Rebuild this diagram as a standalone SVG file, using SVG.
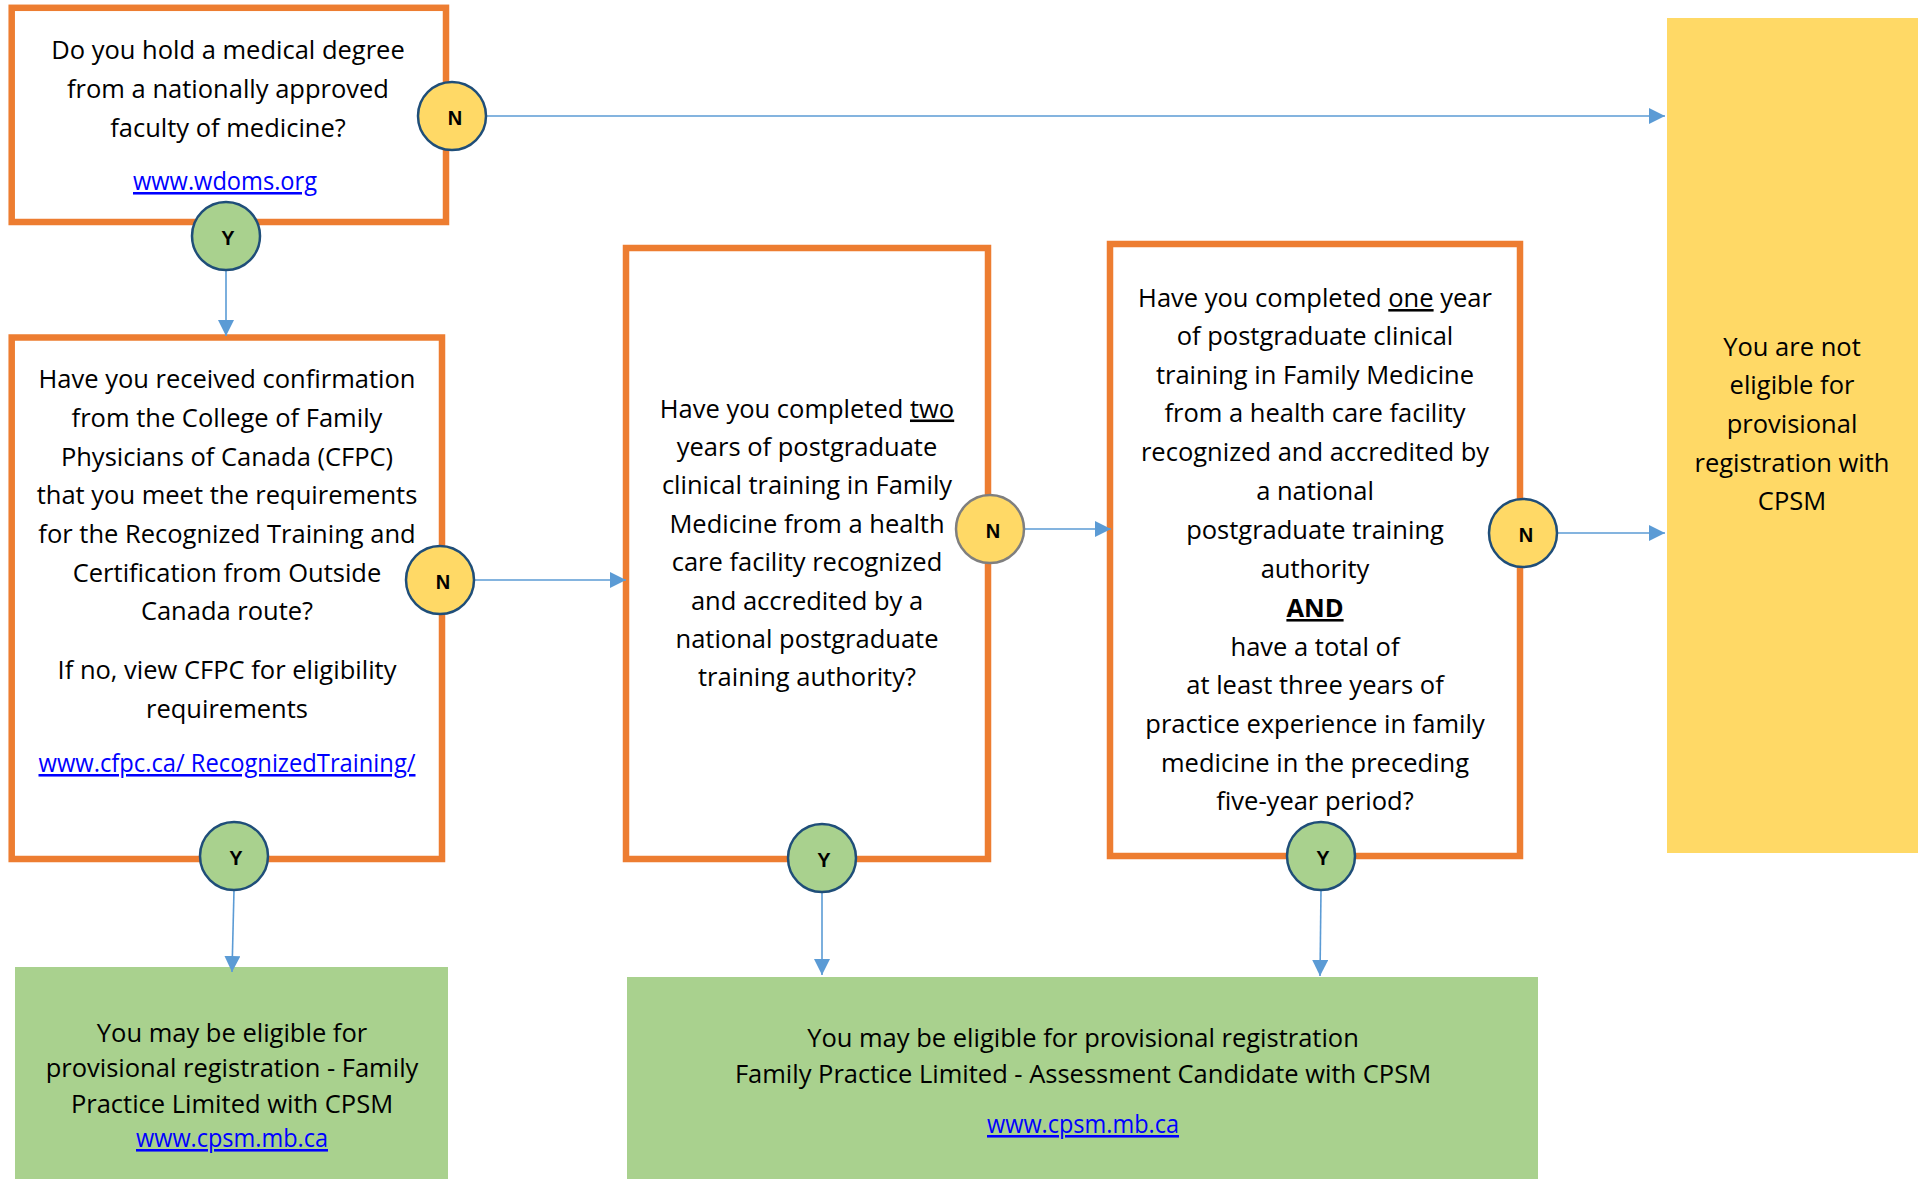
<svg xmlns="http://www.w3.org/2000/svg" width="1923" height="1179" viewBox="0 0 1923 1179">
<style>
.bg{fill:#ffffff}
.box{fill:#ffffff;stroke:#ED7D31;stroke-width:6.5}
.green{fill:#A9D18E}
.yellow{fill:#FFD966}
.t{font-family:"Open Sans","DejaVu Sans",sans-serif;font-size:25.5px;fill:#000000;text-anchor:middle}
.link{fill:#0000FF;text-decoration:underline}
.u{text-decoration:underline}
.b{font-weight:bold}
.yes{fill:#A9D18E;stroke:#1F4E79;stroke-width:2.5}
.no{fill:#FFD966;stroke:#1F4E79;stroke-width:2.5}
.nogray{fill:#FFD966;stroke:#7F7F7F;stroke-width:2.5}
.lbl{font-family:"Liberation Sans",Arial,sans-serif;font-weight:bold;font-size:20px;fill:#000000;text-anchor:middle}
.conn{stroke:#5B9BD5;stroke-width:1.6;fill:none;marker-end:url(#arrow)}
</style>
<defs>
<marker id="arrow" markerUnits="userSpaceOnUse" markerWidth="16" markerHeight="16" refX="16" refY="8" orient="auto">
<path d="M0,0 L16,8 L0,16 z" fill="#5B9BD5"/>
</marker>
</defs>
<rect class="bg" x="0" y="0" width="1923" height="1179"/>

<g id="q1">
<rect class="box" x="11.7" y="7.8" width="434.3" height="214.2"/>
<text class="t" x="228" y="59">Do you hold a medical degree</text>
<text class="t" x="228" y="98">from a nationally approved</text>
<text class="t" x="228" y="137">faculty of medicine?</text>
<text class="t link" x="225" y="190" textLength="184" lengthAdjust="spacingAndGlyphs">www.wdoms.org</text>
</g>

<g id="q2">
<rect class="box" x="11.7" y="337.5" width="430.3" height="521.5"/>
<text class="t" x="227" y="388">Have you received confirmation</text>
<text class="t" x="227" y="427">from the College of Family</text>
<text class="t" x="227" y="466">Physicians of Canada (CFPC)</text>
<text class="t" x="227" y="504">that you meet the requirements</text>
<text class="t" x="227" y="543">for the Recognized Training and</text>
<text class="t" x="227" y="582">Certification from Outside</text>
<text class="t" x="227" y="620">Canada route?</text>
<text class="t" x="227" y="679">If no, view CFPC for eligibility</text>
<text class="t" x="227" y="718">requirements</text>
<text class="t link" x="227" y="772" textLength="377" lengthAdjust="spacingAndGlyphs">www.cfpc.ca/ RecognizedTraining/</text>
</g>

<g id="q3">
<rect class="box" x="626" y="248" width="362" height="611"/>
<text class="t" x="807" y="417.5">Have you completed <tspan class="u">two</tspan></text>
<text class="t" x="807" y="456">years of postgraduate</text>
<text class="t" x="807" y="494">clinical training in Family</text>
<text class="t" x="807" y="533">Medicine from a health</text>
<text class="t" x="807" y="571">care facility recognized</text>
<text class="t" x="807" y="610">and accredited by a</text>
<text class="t" x="807" y="648">national postgraduate</text>
<text class="t" x="807" y="686">training authority?</text>
</g>

<g id="q4">
<rect class="box" x="1110" y="244" width="410" height="612"/>
<text class="t" x="1315" y="307">Have you completed <tspan class="u">one</tspan> year</text>
<text class="t" x="1315" y="345">of postgraduate clinical</text>
<text class="t" x="1315" y="384">training in Family Medicine</text>
<text class="t" x="1315" y="422">from a health care facility</text>
<text class="t" x="1315" y="461">recognized and accredited by</text>
<text class="t" x="1315" y="500">a national</text>
<text class="t" x="1315" y="539">postgraduate training</text>
<text class="t" x="1315" y="578">authority</text>
<text class="t b u" x="1315" y="617">AND</text>
<text class="t" x="1315" y="656">have a total of</text>
<text class="t" x="1315" y="694">at least three years of</text>
<text class="t" x="1315" y="733">practice experience in family</text>
<text class="t" x="1315" y="772">medicine in the preceding</text>
<text class="t" x="1315" y="810">five-year period?</text>
</g>

<g id="notEligible">
<rect class="yellow" x="1667" y="18" width="251" height="835"/>
<text class="t" x="1792" y="356">You are not</text>
<text class="t" x="1792" y="394">eligible for</text>
<text class="t" x="1792" y="433">provisional</text>
<text class="t" x="1792" y="472">registration with</text>
<text class="t" x="1792" y="510">CPSM</text>
</g>

<g id="fpLimited">
<rect class="green" x="15" y="967" width="433" height="212"/>
<text class="t" x="232" y="1042">You may be eligible for</text>
<text class="t" x="232" y="1077">provisional registration - Family</text>
<text class="t" x="232" y="1113">Practice Limited with CPSM</text>
<text class="t link" x="232" y="1147" textLength="192" lengthAdjust="spacingAndGlyphs">www.cpsm.mb.ca</text>
</g>

<g id="fpAssessment">
<rect class="green" x="627" y="977" width="911" height="202"/>
<text class="t" x="1083" y="1047">You may be eligible for provisional registration</text>
<text class="t" x="1083" y="1083">Family Practice Limited - Assessment Candidate with CPSM</text>
<text class="t link" x="1083" y="1133" textLength="192" lengthAdjust="spacingAndGlyphs">www.cpsm.mb.ca</text>
</g>

<g id="connectors">
<line class="conn" x1="486.5" y1="116" x2="1665" y2="116"/>
<line class="conn" x1="226" y1="270.5" x2="226" y2="336"/>
<line class="conn" x1="474.5" y1="580" x2="626" y2="580"/>
<line class="conn" x1="234" y1="890" x2="232" y2="972"/>
<line class="conn" x1="1024" y1="529" x2="1111" y2="529"/>
<line class="conn" x1="822" y1="892" x2="822" y2="975"/>
<line class="conn" x1="1557.5" y1="533" x2="1665" y2="533"/>
<line class="conn" x1="1321" y1="890" x2="1320" y2="976"/>
</g>

<g id="n1"><circle class="no" cx="452" cy="116" r="34"/><text class="lbl" x="455" y="125">N</text></g>
<g id="y1"><circle class="yes" cx="226" cy="236" r="34"/><text class="lbl" x="228" y="245">Y</text></g>
<g id="n2"><circle class="no" cx="440" cy="580" r="34"/><text class="lbl" x="443" y="589">N</text></g>
<g id="y2"><circle class="yes" cx="234" cy="856" r="34"/><text class="lbl" x="236" y="865">Y</text></g>
<g id="n3"><circle class="nogray" cx="990" cy="529" r="34"/><text class="lbl" x="993" y="538">N</text></g>
<g id="y3"><circle class="yes" cx="822" cy="858" r="34"/><text class="lbl" x="824" y="867">Y</text></g>
<g id="n4"><circle class="no" cx="1523" cy="533" r="34"/><text class="lbl" x="1526" y="542">N</text></g>
<g id="y4"><circle class="yes" cx="1321" cy="856" r="34"/><text class="lbl" x="1323" y="865">Y</text></g>
</svg>
